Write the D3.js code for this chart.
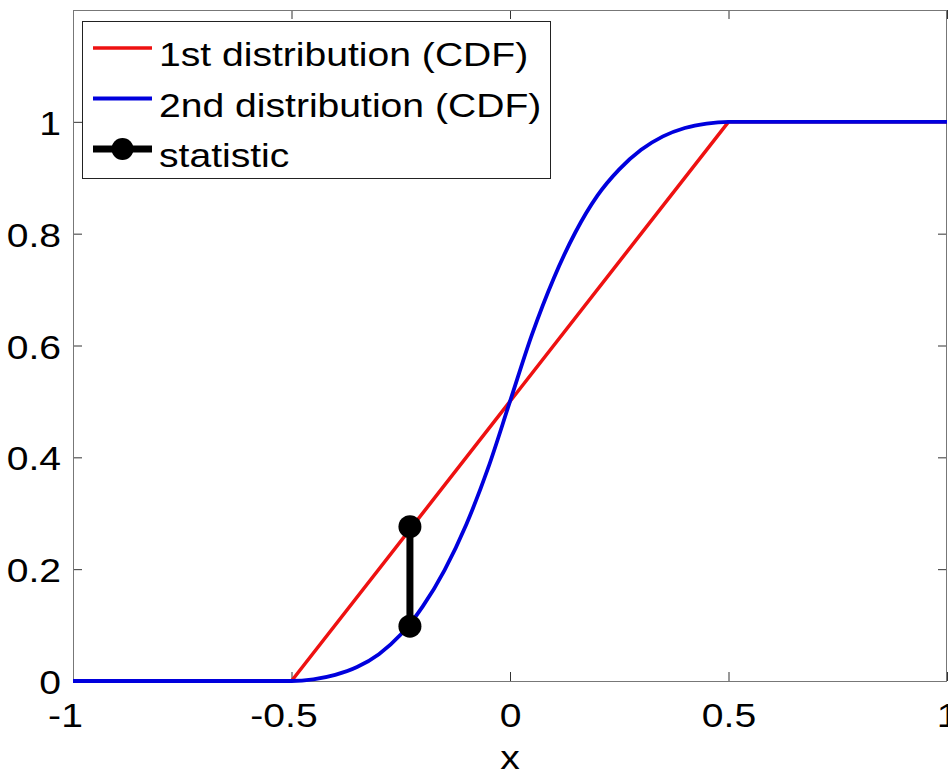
<!DOCTYPE html>
<html>
<head>
<meta charset="utf-8">
<script src="https://cdn.jsdelivr.net/npm/d3@7"></script>
<style>
  html, body { margin: 0; padding: 0; background: #fff; }
  svg { display: block; }
  text { font-family: "Liberation Sans", Arial, Helvetica, sans-serif; fill: #000; }
</style>
</head>
<body>
<svg id="chart" width="948" height="776"></svg>
<script>
// ---- data ----
const xTicks = [-1, -0.5, 0, 0.5, 1];
const xTickLabels = ["-1", "-0.5", "0", "0.5", "1"];
const yTicks = [0, 0.2, 0.4, 0.6, 0.8, 1];
const yTickLabels = ["0", "0.2", "0.4", "0.6", "0.8", "1"];

const redX = [-1, -0.5, 0.5, 1];
const redY = [0, 0, 1, 1];

const blueX = [-1, -0.5, -0.45, -0.4, -0.35, -0.3, -0.25, -0.2, -0.15, -0.1, -0.05, 0, 0.05, 0.1, 0.15, 0.2, 0.25, 0.3, 0.35, 0.4, 0.45, 0.5, 1];
const blueY = [0, 0, 0.003, 0.011, 0.025, 0.048, 0.083, 0.133, 0.198, 0.280, 0.381, 0.5, 0.619, 0.720, 0.803, 0.868, 0.915, 0.950, 0.974, 0.989, 0.997, 1, 1];

const statX = [-0.229, -0.229];
const statY = [0.098, 0.276];

const legendLabels = ["1st distribution (CDF)", "2nd distribution (CDF)", "statistic"];
const xLabel = "x";

// ---- layout ----
const L = 73, R = 947, T = 10, B = 681;
const SX = 1.15;           // horizontal stretch of the original text
const FS = 34;
const RED = "#ee1111", BLUE = "#0000dd";

const svg = d3.select("#chart");
const x = d3.scaleLinear().domain([-1, 1]).range([L, R]);
const y = d3.scaleLinear().domain([0, 1.2]).range([B, T]);

svg.append("rect").attr("width", 948).attr("height", 776).attr("fill", "#fff");

// axes
const tickLen = 9;
const gB = svg.append("g").attr("transform", `translate(0,${B})`)
  .call(d3.axisBottom(x).tickValues(xTicks).tickFormat((d, i) => xTickLabels[i]).tickSize(-tickLen).tickPadding(0));
const gT = svg.append("g").attr("transform", `translate(0,${T})`)
  .call(d3.axisTop(x).tickValues(xTicks).tickFormat("").tickSize(-tickLen));
const gL = svg.append("g").attr("transform", `translate(${L},0)`)
  .call(d3.axisLeft(y).tickValues(yTicks).tickFormat((d, i) => yTickLabels[i]).tickSize(-tickLen).tickPadding(0));
const gR = svg.append("g").attr("transform", `translate(${R},0)`)
  .call(d3.axisRight(y).tickValues(yTicks).tickFormat("").tickSize(-tickLen));

[gB, gT, gL, gR].forEach(g => {
  g.select(".domain").remove();
  g.selectAll(".tick line").attr("stroke", "#333").attr("stroke-width", 1);
  g.selectAll("text").attr("font-size", FS).attr("font-family", null).attr("fill", "#000");
});
gB.selectAll(".tick text").attr("dy", null).attr("y", 46)
  .attr("x", function () { return this.textContent.startsWith("-") ? -8 / SX : 0; })
  .attr("transform", `scale(${SX},1)`);
gL.selectAll(".tick text").attr("dy", null).attr("x", -12 / SX).attr("y", 12.5)
  .attr("transform", `scale(${SX},1)`);

// box
svg.append("rect").attr("x", L + 0.5).attr("y", T + 0.5).attr("width", R - L - 1).attr("height", B - T)
  .attr("fill", "none").attr("stroke", "#777").attr("stroke-width", 1);

// lines
const redData = redX.map((v, i) => [v, redY[i]]);
const blueData = blueX.map((v, i) => [v, blueY[i]]);

svg.append("path").datum(redData).attr("d", d3.line().x(d => x(d[0])).y(d => y(d[1])))
  .attr("fill", "none").attr("stroke", RED).attr("stroke-width", 3.5).attr("stroke-linejoin", "round");
svg.append("path").datum(blueData).attr("d", d3.line().x(d => x(d[0])).y(d => y(d[1])).curve(d3.curveMonotoneX))
  .attr("fill", "none").attr("stroke", BLUE).attr("stroke-width", 3.8).attr("stroke-linejoin", "round");

// statistic
const statData = statX.map((v, i) => [v, statY[i]]);
svg.append("path").datum(statData).attr("d", d3.line().x(d => x(d[0])).y(d => y(d[1])))
  .attr("fill", "none").attr("stroke", "#000").attr("stroke-width", 7);
svg.selectAll("circle.stat").data(statData).join("circle").attr("class", "stat")
  .attr("cx", d => x(d[0])).attr("cy", d => y(d[1])).attr("r", 11.5).attr("fill", "#000");

// x label
svg.append("text").attr("transform", `translate(${x(0)},769) scale(${SX},1)`)
  .attr("text-anchor", "middle").attr("font-size", FS).text(xLabel);

// legend
const lg = svg.append("g");
lg.append("rect").attr("x", 82.5).attr("y", 21.5).attr("width", 468).attr("height", 157)
  .attr("fill", "#fff").attr("stroke", "#222").attr("stroke-width", 1);
const baselines = [66, 116.5, 167];
const styles = [
  { color: RED, w: 3.5, marker: false },
  { color: BLUE, w: 3.8, marker: false },
  { color: "#000", w: 7, marker: true }
];
legendLabels.forEach((lab, i) => {
  const ly = baselines[i] - 18;
  lg.append("line").attr("x1", 93).attr("x2", 152).attr("y1", ly).attr("y2", ly)
    .attr("stroke", styles[i].color).attr("stroke-width", styles[i].w);
  if (styles[i].marker) {
    lg.append("circle").attr("cx", 122.5).attr("cy", ly).attr("r", 11).attr("fill", "#000");
  }
  lg.append("text").attr("transform", `translate(159,${baselines[i]}) scale(${SX},1)`)
    .attr("font-size", FS).text(lab);
});
</script>
</body>
</html>
